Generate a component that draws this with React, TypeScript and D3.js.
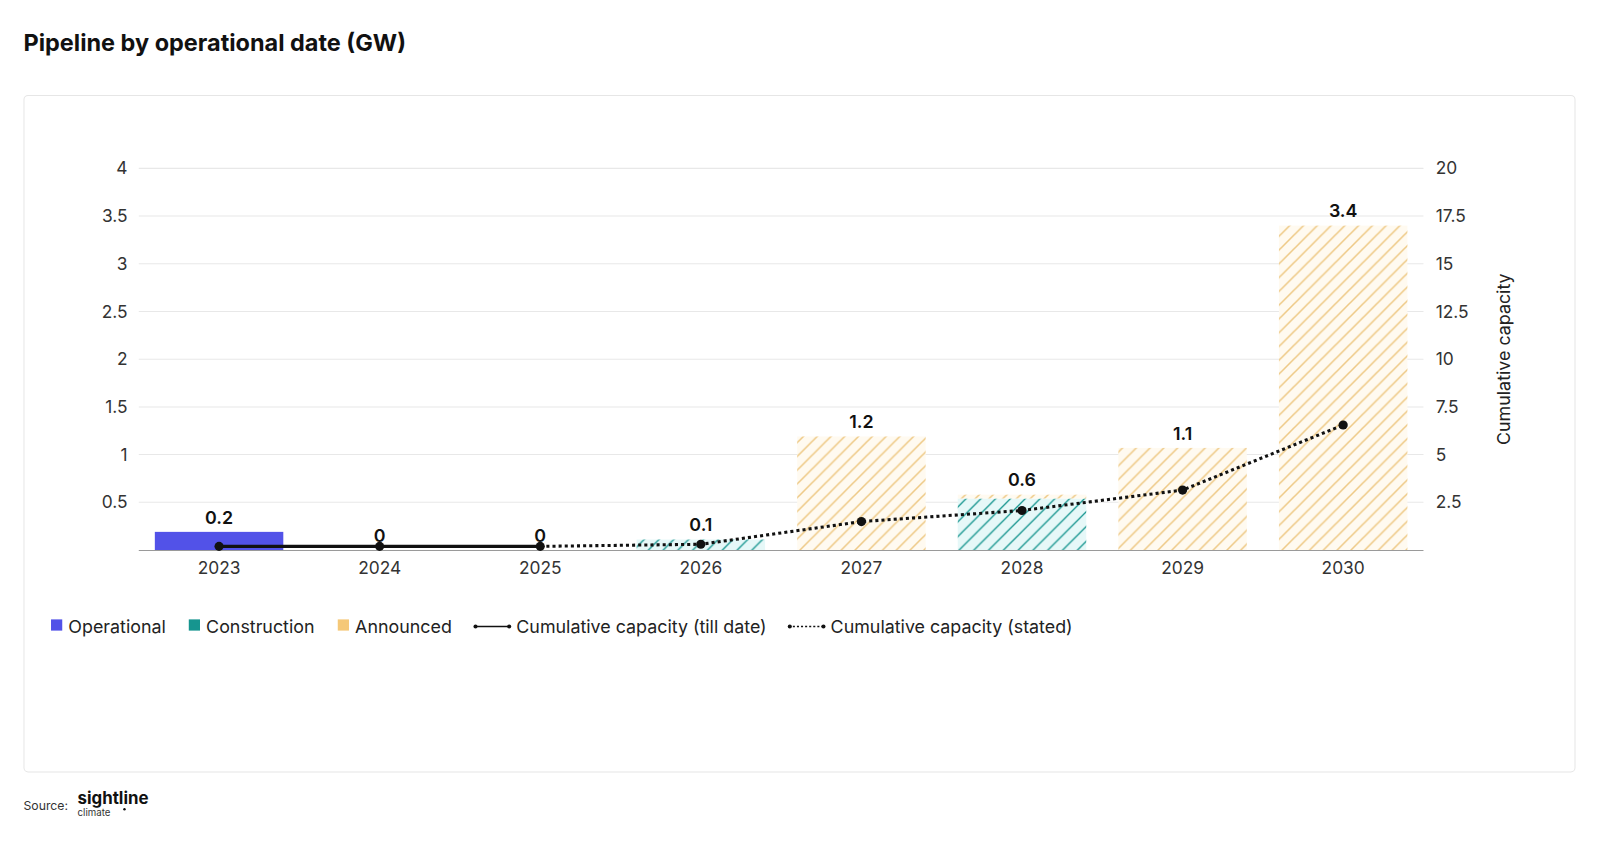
import React, { useRef, useEffect } from 'react';
import * as d3 from 'd3';

const years = ['2023', '2024', '2025', '2026', '2027', '2028', '2029', '2030'];
const operational = [0.19, 0, 0, 0, 0, 0, 0, 0];
const construction = [0, 0, 0, 0.11, 0, 0.54, 0, 0];
const announced = [0, 0, 0, 0, 1.19, 0.04, 1.07, 3.4];
const cumulativeTillDate = [0.19, 0.19, 0.19];
const cumulativeStated = [0.19, 0.3, 1.49, 2.07, 3.14, 6.55];
const statedYears = ['2025', '2026', '2027', '2028', '2029', '2030'];
const leftTicks = [0.5, 1, 1.5, 2, 2.5, 3, 3.5, 4];
const rightTicks = [2.5, 5, 7.5, 10, 12.5, 15, 17.5, 20];

const FONT = 'Inter, "Noto Sans", sans-serif';

const App: React.FC = () => {
  const svgRef = useRef<SVGSVGElement>(null);

  useEffect(() => {
    if (!svgRef.current) return;
    const W = 1600, H = 852;
    const svgSel = d3.select(svgRef.current).attr('width', W).attr('height', H);
    svgSel.selectAll('*').remove();

    // layout was measured on a 1568px-wide view; scale up to the real canvas
    const svg = svgSel.append('g').attr('transform', `scale(${1600 / 1568})`);

    const plot = { left: 136, right: 1395, top: 165, bottom: 539 };

    const x = d3.scaleBand<string>().domain(years).range([plot.left, plot.right]).paddingInner(0.2).paddingOuter(0.1);
    const y = d3.scaleLinear().domain([0, 4]).range([plot.bottom, plot.top]);
    const y2 = d3.scaleLinear().domain([0, 20]).range([plot.bottom, plot.top]);

    // hatch patterns
    const defs = svgSel.append('defs');
    const hatch = (id: string, bg: string, line: string, s: number, w: number) => {
      const p = defs.append('pattern').attr('id', id).attr('patternUnits', 'userSpaceOnUse')
        .attr('width', s).attr('height', s);
      p.append('rect').attr('width', s).attr('height', s).attr('fill', bg);
      p.append('path')
        .attr('d', `M0,${s} L${s},0 M${-s / 4},${s / 4} L${s / 4},${-s / 4} M${s * 0.75},${s * 1.25} L${s * 1.25},${s * 0.75}`)
        .attr('stroke', line).attr('stroke-width', w);
    };
    hatch('hatch-ann', '#fffaf0', '#eec985', 13.5, 1.5);
    hatch('hatch-con', '#e6f8f8', '#16958f', 14.5, 1.3);

    // title
    svg.append('text').attr('x', 23).attr('y', 50).text('Pipeline by operational date (GW)')
      .attr('font-family', FONT).attr('font-size', 23).attr('font-weight', 700).attr('fill', '#111');

    // card
    svg.append('rect').attr('x', 23.5).attr('y', 93.5).attr('width', 1520).attr('height', 663)
      .attr('rx', 4).attr('fill', '#fff').attr('stroke', '#e6e6e6');

    // gridlines
    svg.append('g').selectAll('line').data(leftTicks).join('line')
      .attr('x1', plot.left).attr('x2', plot.right)
      .attr('y1', d => y(d)).attr('y2', d => y(d))
      .attr('stroke', '#e8e8e8').attr('stroke-width', 1);

    // left ticks
    svg.append('g').selectAll('text').data(leftTicks).join('text')
      .attr('x', 125).attr('y', d => y(d)).attr('dy', '0.35em').attr('text-anchor', 'end')
      .text(d => String(d)).attr('font-family', FONT).attr('font-size', 17).attr('fill', '#333');

    // right ticks
    svg.append('g').selectAll('text').data(rightTicks).join('text')
      .attr('x', 1407).attr('y', d => y2(d)).attr('dy', '0.35em').attr('text-anchor', 'start')
      .text(d => String(d)).attr('font-family', FONT).attr('font-size', 17).attr('fill', '#333');

    svg.append('text')
      .attr('transform', `translate(${1480},${y2(10)}) rotate(-90)`)
      .attr('text-anchor', 'middle').text('Cumulative capacity')
      .attr('font-family', FONT).attr('font-size', 17.5).attr('fill', '#222');

    // bars
    const rows = years.map((yr, i) => ({ yr, op: operational[i], con: construction[i], ann: announced[i] }));
    const bars = svg.append('g');
    rows.forEach(r => {
      let base = 0;
      const segs: [number, string][] = [[r.op, '#5252e8'], [r.con, 'url(#hatch-con)'], [r.ann, 'url(#hatch-ann)']];
      segs.forEach(([v, fill]) => {
        if (v <= 0) return;
        bars.append('rect')
          .attr('x', x(r.yr)!).attr('width', x.bandwidth())
          .attr('y', y(base + v)).attr('height', y(base) - y(base + v))
          .attr('fill', fill);
        base += v;
      });
    });

    // x axis
    svg.append('line').attr('x1', plot.left).attr('x2', plot.right)
      .attr('y1', plot.bottom + 0.5).attr('y2', plot.bottom + 0.5).attr('stroke', '#9a9a9a');
    svg.append('g').selectAll('text').data(years).join('text')
      .attr('x', d => x(d)! + x.bandwidth() / 2).attr('y', 563).attr('text-anchor', 'middle')
      .text(d => d).attr('font-family', FONT).attr('font-size', 17).attr('fill', '#333');

    // bar labels
    svg.append('g').selectAll('text').data(rows).join('text')
      .attr('x', d => x(d.yr)! + x.bandwidth() / 2)
      .attr('y', d => y(d.op + d.con + d.ann) - 8)
      .attr('text-anchor', 'middle')
      .text(d => { const t = d.op + d.con + d.ann; return t === 0 ? '0' : t.toFixed(1); })
      .attr('font-family', FONT).attr('font-size', 17.5).attr('font-weight', 600).attr('fill', '#111');

    // cumulative lines
    const cx = (yr: string) => x(yr)! + x.bandwidth() / 2;
    const line = d3.line<[string, number]>().x(d => cx(d[0])).y(d => y2(d[1]));
    const till: [string, number][] = cumulativeTillDate.map((v, i) => [years[i], v]);
    const stated: [string, number][] = cumulativeStated.map((v, i) => [statedYears[i], v]);

    svg.append('path').datum(stated).attr('d', line).attr('fill', 'none')
      .attr('stroke', '#111').attr('stroke-width', 3).attr('stroke-dasharray', '3,3');
    svg.append('path').datum(till).attr('d', line).attr('fill', 'none')
      .attr('stroke', '#111').attr('stroke-width', 3);
    svg.append('g').selectAll('circle').data([...till, ...stated.slice(1)]).join('circle')
      .attr('cx', d => cx(d[0])).attr('cy', d => y2(d[1])).attr('r', 4.5).attr('fill', '#111');

    // legend
    const lg = svg.append('g').attr('font-family', FONT).attr('font-size', 17.5).attr('fill', '#222');
    const ly = 614;
    const sq = [
      { x: 50, c: '#5252e8', t: 'Operational' },
      { x: 185, c: '#16958f', t: 'Construction' },
      { x: 331, c: '#f5c878', t: 'Announced' },
    ];
    sq.forEach(s => {
      lg.append('rect').attr('x', s.x).attr('y', ly - 7).attr('width', 11).attr('height', 11).attr('fill', s.c);
      lg.append('text').attr('x', s.x + 17).attr('y', ly).attr('dy', '0.35em').text(s.t);
    });
    const ln = [
      { x: 465, dash: null as string | null, t: 'Cumulative capacity (till date)' },
      { x: 773, dash: '2,2', t: 'Cumulative capacity (stated)' },
    ];
    ln.forEach(l => {
      const p = lg.append('line').attr('x1', l.x).attr('x2', l.x + 35).attr('y1', ly).attr('y2', ly)
        .attr('stroke', '#111').attr('stroke-width', 1.5);
      if (l.dash) p.attr('stroke-dasharray', l.dash);
      lg.append('circle').attr('cx', l.x + 1).attr('cy', ly).attr('r', 2).attr('fill', '#111');
      lg.append('circle').attr('cx', l.x + 34).attr('cy', ly).attr('r', 2).attr('fill', '#111');
      lg.append('text').attr('x', l.x + 41).attr('y', ly).attr('dy', '0.35em').text(l.t);
    });

    // source
    svg.append('text').attr('x', 23).attr('y', 794).text('Source:')
      .attr('font-family', FONT).attr('font-size', 12).attr('fill', '#333');
    svg.append('text').attr('x', 76).attr('y', 788).text('sightline')
      .attr('font-family', FONT).attr('font-size', 16.5).attr('font-weight', 700).attr('fill', '#111');
    svg.append('text').attr('x', 76).attr('y', 800).text('climate')
      .attr('font-family', FONT).attr('font-size', 9.5).attr('fill', '#333');
    svg.append('circle').attr('cx', 122).attr('cy', 793).attr('r', 1.2).attr('fill', '#111');
  }, []);

  return (
    <div style={{ position: 'absolute', left: 0, top: 0, width: 1600, height: 852, background: '#fff' }}>
      <svg ref={svgRef}></svg>
    </div>
  );
};

export default App;
